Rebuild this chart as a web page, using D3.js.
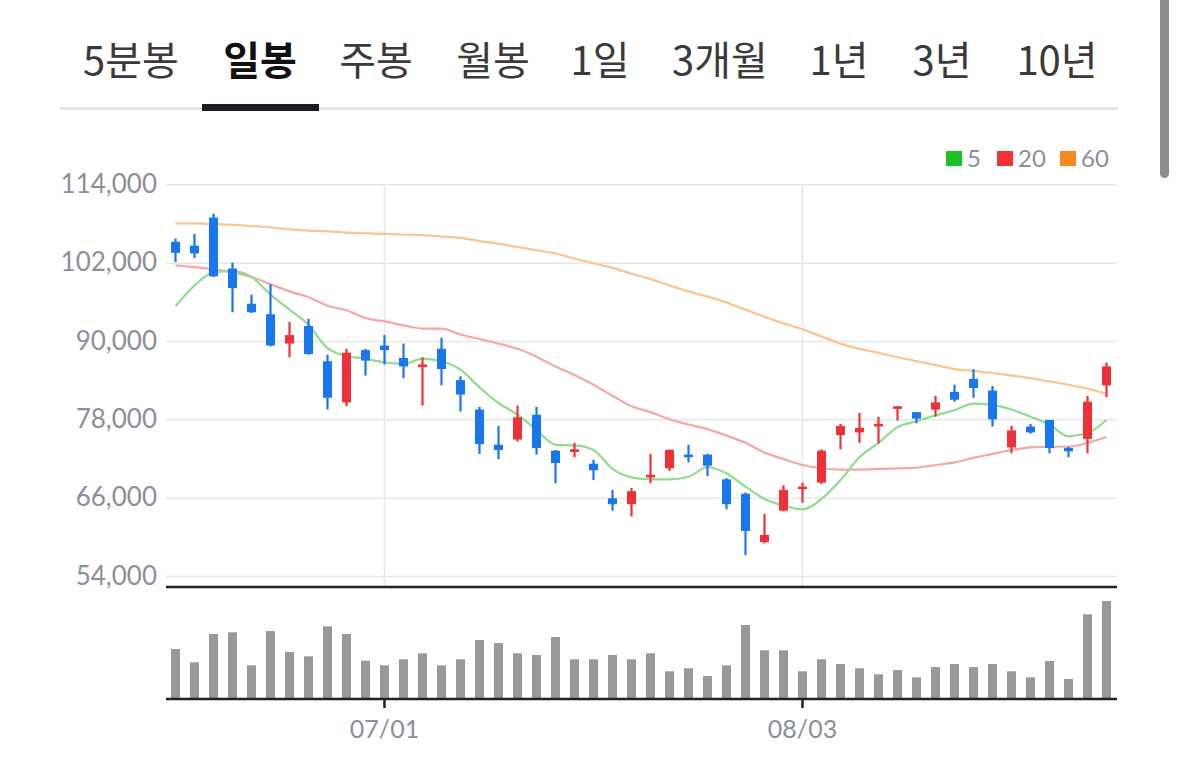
<!DOCTYPE html>
<html>
<head>
<meta charset="utf-8">
<script src="https://cdn.jsdelivr.net/npm/d3@7"></script>
<style>
  body { margin: 0; background: #fff; }
  svg { display: block; }
</style>
</head>
<body>
<div class="graph"></div>
<script>
// tab labels at the top, index 1 is the selected one
const tabLabels = ['5분봉', '일봉', '주봉', '월봉', '1일', '3개월', '1년', '3년', '10년'];
const activeTab = 1;

// daily candles (50 trading days)
const opens  = [105200,104600,108900,101100,95700,94100,89600,92300,86900,80600,88600,89300,87400,86000,88800,84000,79500,74100,74900,78700,73200,73000,71200,65900,65000,69100,70500,72600,72600,68800,66600,59200,64000,67300,68300,75600,76000,76900,79600,79100,79500,82200,84200,82400,73700,76900,77900,73600,75000,83200];
const highs  = [105700,106400,109500,102000,97100,98700,92900,93400,87900,88800,88800,90900,89600,87500,90500,84600,79900,77000,80100,79900,73300,74400,71800,67200,67500,72700,73400,74100,72700,69000,66800,63500,67900,68300,73400,77300,79000,78400,80000,79100,81600,83300,85700,83100,77000,77300,77900,73800,81600,86700];
const lows   = [102100,102700,99800,94400,94300,89200,87500,87900,79500,80000,84700,86400,84300,80100,83200,79200,72700,71900,74600,72600,68200,72200,68700,64000,63100,68200,70100,71400,69300,64200,57200,59000,63900,65200,68100,73400,74400,74300,77800,77400,78400,80700,81300,76900,72800,75800,72800,72200,72800,81400];
const closes = [103500,103400,99900,98100,94400,89300,90900,88000,81300,88200,87000,88600,86100,86400,85700,81800,74200,73300,78300,73600,71300,73400,70200,65000,67000,69500,73300,72200,70900,65000,60900,60300,67200,67700,73200,77000,76700,77300,80000,78100,80600,81000,82800,78000,76300,76000,73600,73100,80700,86100];

// moving averages as drawn
const ma5  = [95300,98500,100500,100700,99800,97100,94800,92500,88900,87700,87300,86700,86500,87300,86900,85600,82900,80500,78700,76400,74100,74000,73300,70400,69100,68800,68800,69200,70700,69700,67700,65800,64800,64200,65800,68700,72200,74400,76800,77700,78600,79400,80400,80200,79500,78400,77200,75400,75900,77900];
const ma20 = [101600,101300,101000,100500,99800,98700,97600,96700,95400,94700,93500,93000,92400,91900,91900,91000,90300,89600,88800,87600,86100,84800,83300,81600,80000,79100,78000,77200,76500,75500,74400,72900,71900,71000,70500,70300,70300,70400,70500,70600,71000,71400,72100,72700,73300,73700,73800,73800,74400,75300];
const ma60 = [108000,108000,107900,107800,107600,107400,107100,106900,106800,106600,106500,106400,106300,106200,106000,105800,105300,104900,104400,103900,103400,102600,101900,101200,100300,99500,98500,97600,96800,95900,94800,93700,92700,91800,90700,89600,88800,88200,87500,86900,86300,85700,85400,85100,84700,84300,83800,83300,82700,81900];

// volume (thousand shares)
const volumes = [500,367,650,667,337,680,470,427,727,650,383,337,397,457,337,397,590,560,457,440,620,397,397,440,397,457,277,307,230,337,740,487,487,277,397,350,307,247,290,217,320,350,320,350,277,217,380,200,847,980];

// axis ticks
const priceTicks = [54000, 66000, 78000, 90000, 102000, 114000];
const dateTickIndex = [11, 33];
const dateTickLabels = ['07/01', '08/03'];

const legendLabels = ['5', '20', '60'];
const legendColors = ['#1dc123', '#f0333b', '#f7891f'];
const lineColors = ['#8fdc8c', '#f7a6a6', '#f9c48f'];

const width = 1179;
const height = 760;

const svg = d3.select('.graph').append('svg')
  .attr('width', width)
  .attr('height', height);

// ---- tabs ----
const tabX = [131, 260, 376, 493, 600, 720, 839, 942, 1057];
svg.append('rect')
  .attr('x', 60).attr('y', 107)
  .attr('width', 1058).attr('height', 3)
  .attr('fill', '#e4e4e4');

svg.selectAll('.tab')
  .data(tabLabels)
  .enter().append('text')
  .attr('class', 'tab')
  .attr('x', (d, i) => tabX[i])
  .attr('y', 75)
  .attr('text-anchor', 'middle')
  .style('font-family', '"Noto Sans CJK KR", "Noto Sans", sans-serif')
  .style('font-size', '40px')
  .style('font-weight', (d, i) => i === activeTab ? 700 : 400)
  .style('fill', (d, i) => i === activeTab ? '#111' : '#3a3a3a')
  .text(d => d);

svg.append('rect')
  .attr('x', 202).attr('y', 104)
  .attr('width', 117).attr('height', 7)
  .attr('fill', '#1c1c22');

// scrollbar on the right edge
svg.append('rect')
  .attr('x', 1160).attr('y', -10)
  .attr('width', 9).attr('height', 188)
  .attr('rx', 4.5)
  .attr('fill', '#8c8c8c');

// ---- scales ----
const plotLeft = 166;
const plotRight = 1117;
const idx = d3.range(opens.length);

const x = d3.scaleBand()
  .domain(idx)
  .range([plotLeft, plotRight - 1]);
const cx = i => x(i) + x.bandwidth() / 2;

const y = d3.scaleLinear()
  .domain([54000, 114000])
  .range([576, 184.3]);

const yVol = d3.scaleLinear()
  .domain([0, 1000])
  .range([699, 599]);

// ---- grid ----
const yAxis = d3.axisLeft(y)
  .tickValues(priceTicks)
  .tickSize(-(plotRight - plotLeft))
  .tickFormat(d3.format(','));

const gy = svg.append('g')
  .attr('transform', `translate(${plotLeft},0)`)
  .call(yAxis);
gy.select('.domain').remove();
gy.selectAll('.tick line')
  .attr('stroke', '#e6e7eb')
  .attr('stroke-width', 1.5);
gy.selectAll('.tick text')
  .attr('x', -9)
  .style('font-family', 'Lato, "Noto Sans", sans-serif')
  .style('font-size', '26px')
  .style('fill', '#8a909b');

// vertical grid at the date ticks
svg.selectAll('.vgrid')
  .data(dateTickIndex)
  .enter().append('line')
  .attr('class', 'vgrid')
  .attr('x1', d => cx(d)).attr('x2', d => cx(d))
  .attr('y1', y(114000)).attr('y2', 587)
  .attr('stroke', '#e6e7eb')
  .attr('stroke-width', 1.5);

// panel frame lines
svg.append('line')
  .attr('x1', plotLeft).attr('x2', plotRight)
  .attr('y1', 587).attr('y2', 587)
  .attr('stroke', '#222').attr('stroke-width', 2.5);

// ---- moving averages ----
const line = d3.line()
  .x((d, i) => cx(i))
  .y(d => y(d))
  .curve(d3.curveMonotoneX);

[ma60, ma20, ma5].forEach((series, k) => {
  svg.append('path')
    .datum(series)
    .attr('fill', 'none')
    .attr('stroke', lineColors[2 - k])
    .attr('stroke-width', 2.2)
    .attr('d', line);
});

// ---- candles ----
const upColor = '#ec3238';
const downColor = '#1877ec';
const candleColor = i => closes[i] >= opens[i] ? upColor : downColor;

svg.selectAll('.wick')
  .data(idx)
  .enter().append('line')
  .attr('class', 'wick')
  .attr('x1', i => cx(i)).attr('x2', i => cx(i))
  .attr('y1', i => y(highs[i]))
  .attr('y2', i => y(lows[i]))
  .attr('stroke', candleColor)
  .attr('stroke-width', 2.2);

svg.selectAll('.body')
  .data(idx)
  .enter().append('rect')
  .attr('class', 'body')
  .attr('x', i => cx(i) - 4.5)
  .attr('width', 9)
  .attr('y', i => y(Math.max(opens[i], closes[i])))
  .attr('height', i => Math.max(2.5, Math.abs(y(opens[i]) - y(closes[i]))))
  .attr('fill', candleColor);

// ---- volume ----
svg.selectAll('.vol')
  .data(volumes)
  .enter().append('rect')
  .attr('class', 'vol')
  .attr('x', (d, i) => cx(i) - 4.5)
  .attr('width', 9)
  .attr('y', d => yVol(d))
  .attr('height', d => yVol(0) - yVol(d))
  .attr('fill', '#999999');

const xAxis = d3.axisBottom(x)
  .tickValues(dateTickIndex)
  .tickSize(9)
  .tickPadding(12)
  .tickFormat((d, i) => dateTickLabels[i]);

const gx = svg.append('g')
  .attr('transform', `translate(0,${yVol(0)})`)
  .call(xAxis);
gx.select('.domain')
  .attr('d', `M${plotLeft},0H${plotRight}`)
  .attr('stroke', '#222')
  .attr('stroke-width', 2.5);
gx.selectAll('.tick line')
  .attr('stroke', '#222')
  .attr('stroke-width', 2.5);
gx.selectAll('.tick text')
  .style('font-family', 'Lato, "Noto Sans", sans-serif')
  .style('font-size', '25px')
  .style('fill', '#8a909b');

// ---- legend ----
const legendX = [946, 997, 1060];
const legend = svg.selectAll('.legend')
  .data(legendLabels)
  .enter().append('g')
  .attr('class', 'legend')
  .attr('transform', (d, i) => `translate(${legendX[i]},151)`);

legend.append('rect')
  .attr('width', 16).attr('height', 15)
  .attr('fill', (d, i) => legendColors[i]);

legend.append('text')
  .attr('x', 21)
  .attr('y', 16)
  .style('font-family', 'Lato, "Noto Sans", sans-serif')
  .style('font-size', '24px')
  .style('fill', '#8a909b')
  .text(d => d);
</script>
</body>
</html>
